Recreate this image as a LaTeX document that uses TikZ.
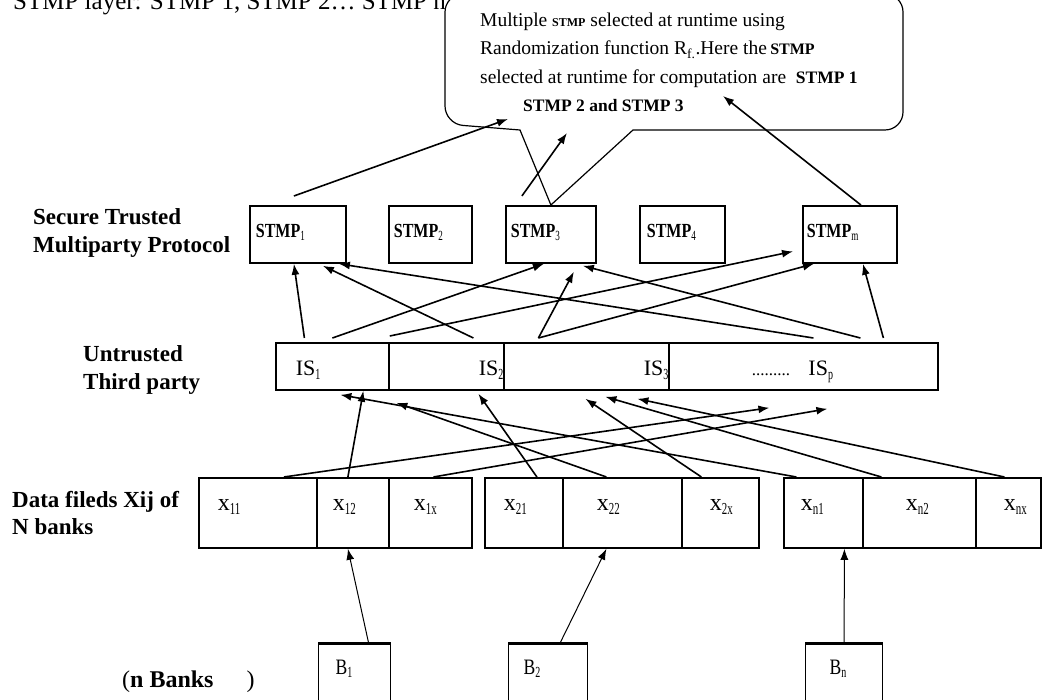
\documentclass[tikz,border=0pt]{standalone}
\usepackage{fontspec}
\setmainfont{Liberation Serif}
\newfontfamily\condfont{Liberation Serif}[FakeStretch=0.8]
\newfontfamily\narrowfont{Liberation Serif}[FakeStretch=0.65]
\newcommand\lowidx[1]{\textsubscript{\narrowfont\mdseries #1}}
\usetikzlibrary{
  arrows.meta,
  positioning,
  calc
}
\tikzset{
  layerlabel/.style={anchor=base west, align=left, inner sep=0pt,
    font=\fontsize{23}{28}\selectfont\bfseries},
  stmpbox/.style={draw, line width=1.8pt, anchor=north west,
    minimum height=57pt, inner xsep=0pt, align=left,
    text height=14pt, text depth=8pt, font=\fontsize{20}{20}\selectfont\condfont\bfseries},
  isbox/.style={draw, line width=1.8pt, anchor=north west,
    minimum height=47pt, inner xsep=0pt,
    text height=20pt, text depth=1pt, font=\fontsize{22}{22}\selectfont},
  cell/.style={draw, line width=1.8pt, anchor=north west,
    minimum height=70pt, inner xsep=0pt, align=left,
    text height=11pt, text depth=15pt, font=\fontsize{24}{24}\selectfont},
  bankbox/.style={draw, line width=1.2pt, anchor=north west,
    minimum height=62pt, inner xsep=0pt, align=left,
    text height=10pt, text depth=10pt, font=\fontsize{22}{22}\selectfont\condfont},
  arrow/.style={-{Latex[length=11pt,width=8pt]}, line width=1.6pt},
  thinarrow/.style={-{Latex[length=11pt,width=8pt]}, line width=1pt},
  callout/.style={line width=1.2pt}
}

\begin{document}
\begin{tikzpicture}[x=1pt,y=-1pt]
  \useasboundingbox (0,0) rectangle (1045,700);
  \clip (0,0) rectangle (1045,700);

  % heading, cut at the top
  \node[anchor=base west, inner sep=0pt, font=\fontsize{25}{25}\selectfont] (heading) at (13,10)
    {STMP layer: STMP 1, STMP 2… STMP n};

  % layer names
  \node[layerlabel] (lstmp) at (33,253) {Secure Trusted\\Multiparty Protocol};
  \node[layerlabel] (lis) at (83,390) {Untrusted\\Third party};
  \node[layerlabel] (ldata) at (12,535) {Data fileds Xij of\\N banks};
  \node[anchor=base west, inner sep=0pt, font=\fontsize{24}{24}\selectfont] (lbanks) at (122,687)
    {(\textbf{n Banks}\hspace{33pt})};

  % STMP layer
  \node[stmpbox, text width=96pt] (stmp1) at (249,205) {\hspace*{6pt}STMP\lowidx{1}};
  \node[stmpbox, text width=83pt] (stmp2) at (388,205) {\hspace*{5pt}STMP\lowidx{2}};
  \node[stmpbox, text width=90pt] (stmp3) at (505,205) {\hspace*{5pt}STMP\lowidx{3}};
  \node[stmpbox, text width=85pt] (stmp4) at (639,205) {\hspace*{7pt}STMP\lowidx{4}};
  \node[stmpbox, text width=94pt] (stmpm) at (802,205) {\hspace*{4pt}STMP\lowidx{m}};

  % untrusted third party
  \node[isbox, text width=113pt, align=left] (is1) at (275,342) {\hspace*{20pt}IS\lowidx{1}};
  \node[isbox, text width=115pt, align=right] (is2) at (388,342) {IS\lowidx{2}\hspace*{3pt}};
  \node[isbox, text width=165pt, align=right] (is3) at (503,342) {IS\lowidx{3}\hspace*{-3pt}};
  \node[isbox, text width=269pt, align=left] (isp) at (668,342) {\hspace*{83pt}{\fontsize{17}{17}\selectfont.........} \ IS\lowidx{p}};

  % data fields of the banks
  \node[cell, text width=118pt] (x11) at (198,477) {\hspace*{19pt}x\lowidx{11}};
  \node[cell, text width=72pt] (x12) at (316,477) {\hspace*{16pt}x\lowidx{12}};
  \node[cell, text width=83pt] (x1x) at (388,477) {\hspace*{25pt}x\lowidx{1x}};
  \node[cell, text width=78pt] (x21) at (484,477) {\hspace*{19pt}x\lowidx{21}};
  \node[cell, text width=119pt] (x22) at (562,477) {\hspace*{34pt}x\lowidx{22}};
  \node[cell, text width=77pt] (x2x) at (681,477) {\hspace*{28pt}x\lowidx{2x}};
  \node[cell, text width=79pt] (xn1) at (783,477) {\hspace*{17pt}x\lowidx{n1}};
  \node[cell, text width=113pt] (xn2) at (862,477) {\hspace*{43pt}x\lowidx{n2}};
  \node[cell, text width=65pt] (xnx) at (975,477) {\hspace*{28pt}x\lowidx{nx}};

  % banks
  \node[bankbox, text width=72pt] (b1) at (318,643) {\hspace*{17pt}B\lowidx{1}};
  \node[bankbox, text width=79pt] (b2) at (508,643) {\hspace*{15pt}B\lowidx{2}};
  \node[bankbox, text width=77pt] (bn) at (805,643) {\hspace*{24pt}B\lowidx{n}};
  \foreach \b in {b1,b2,bn}
    \draw[line width=3pt] (\b.north west) -- (\b.north east);

  % callout on STMP 3
  \draw[callout] (stmp3.north) -- (633,130) [rounded corners=18pt] -- (903,130) -- (903,-6)
    -- (445,-6) -- (445,124) [sharp corners] -- (520,130) -- cycle;
  \node[anchor=base west, align=left, inner sep=0pt, font=\fontsize{19.5}{28.5}\selectfont] (note) at (480,112)
    {Multiple {\fontsize{12}{12}\selectfont\bfseries STMP} selected at runtime using\\
     Randomization function R\textsubscript{f.}.Here the\,{\fontsize{16}{16}\selectfont\bfseries STMP}\\
     selected at runtime for computation are \ {\fontsize{17.5}{17.5}\selectfont\bfseries STMP 1}\\
     \hspace*{43pt}{\fontsize{17.5}{17.5}\selectfont\bfseries STMP 2 and STMP 3}};
  \coordinate (in1) at (508,119);
  \coordinate (in3) at (567,133);
  \coordinate (inm) at (723,96);

  \draw[arrow] ([xshift=-4pt,yshift=9pt]stmp1.north) -- (in1);
  \draw[arrow] ([xshift=-29pt,yshift=9pt]stmp3.north) -- (in3);
  \draw[arrow] ([xshift=11pt]stmpm.north) -- (inm);

  % third party -> STMP
  \draw[arrow] ([xshift=-28pt,yshift=4pt]is1.north) -- ([xshift=-4pt]stmp1.south);
  \draw[arrow] ([xshift=27pt,yshift=4pt]is2.north) -- ([xshift=25pt,yshift=-2pt]stmp1.south);
  \draw[arrow] ([xshift=10pt,yshift=4pt]isp.north) -- ([xshift=41pt]stmp1.south);
  \draw[arrow] ([yshift=4pt]is1.north) -- ([xshift=-7pt]stmp3.south);
  \draw[arrow] ([xshift=-48pt,yshift=4pt]is3.north) -- ([xshift=23pt,yshift=-8pt]stmp3.south);
  \draw[arrow] ([xshift=57pt,yshift=4pt]isp.north) -- ([xshift=32pt,yshift=-2pt]stmp3.south);
  \draw[arrow] ([yshift=6pt]is1.north east) -- ([xshift=-9pt,yshift=-17pt]stmpm.west);
  \draw[arrow] ([xshift=-48pt,yshift=4pt]is3.north) -- ([xshift=-36pt]stmpm.south);
  \draw[arrow] ([xshift=80pt,yshift=4pt]isp.north) -- ([xshift=13pt]stmpm.south);

  % data fields -> third party
  \draw[arrow] ([xshift=26pt]x11.north) -- ([xshift=-34pt,yshift=-17pt]isp.south);
  \draw[arrow] ([xshift=-5pt]x12.north) -- ([xshift=31pt]is1.south);
  \draw[arrow] ([xshift=3pt]x1x.north) -- ([xshift=24pt,yshift=-18pt]isp.south);
  \draw[arrow] ([xshift=13pt]x21.north) -- ([xshift=32pt,yshift=-3pt]is2.south);
  \draw[arrow] ([xshift=-16pt]x22.north) -- ([xshift=-50pt,yshift=-12pt]is2.south);
  \draw[arrow] ([xshift=-19pt]x2x.north) -- ([xshift=-1pt,yshift=-8pt]is3.south);
  \draw[arrow] ([xshift=-27pt]xn1.north) -- ([xshift=8pt,yshift=-4pt]is1.south);
  \draw[arrow] ([xshift=-38pt]xn2.north) -- ([xshift=19pt,yshift=-6pt]is3.south);
  \draw[arrow] ([xshift=-4pt]xnx.north) -- ([xshift=51pt,yshift=-8pt]is3.south);

  % banks -> data fields
  \draw[thinarrow] ([xshift=14pt]b1.north) -- ([xshift=-5pt]x12.south);
  \draw[thinarrow] ([xshift=12pt]b2.north) -- ([xshift=-16pt]x22.south);
  \draw[thinarrow] (bn.north) -- ([xshift=21pt]xn1.south);
\end{tikzpicture}
\end{document}
